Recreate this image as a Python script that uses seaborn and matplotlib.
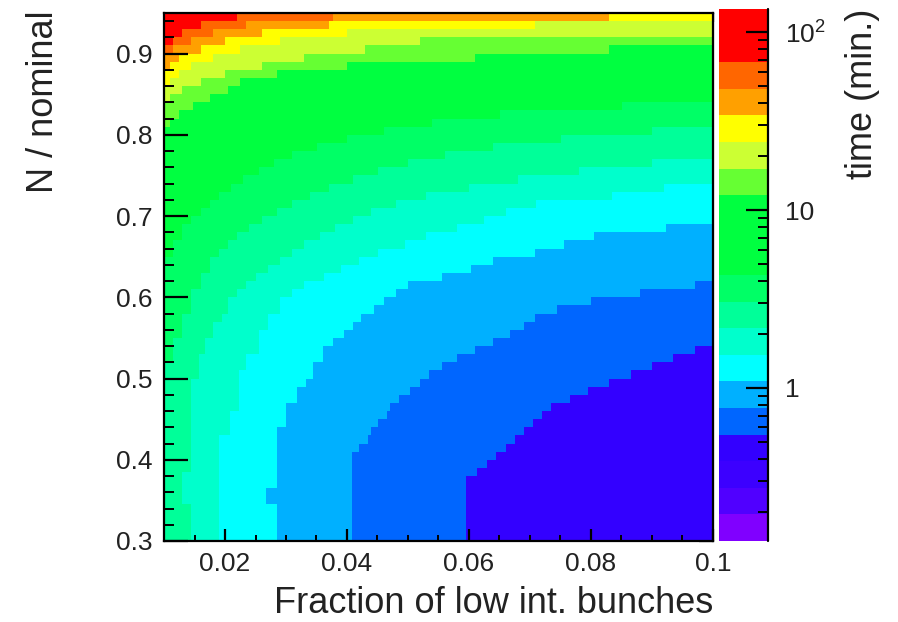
import numpy as np
import pandas as pd
import matplotlib
matplotlib.use("Agg")
import matplotlib.pyplot as plt
import seaborn as sns
from matplotlib.colors import ListedColormap, LogNorm
from matplotlib.ticker import FixedLocator, FixedFormatter, LogLocator, NullFormatter

sns.set_style("white")
plt.rcParams['font.family'] = ['Liberation Sans', 'DejaVu Sans']
plt.rcParams['mathtext.fontset'] = 'custom'
plt.rcParams['mathtext.rm'] = 'Liberation Sans'
plt.rcParams['mathtext.it'] = 'Liberation Sans:italic'
plt.rcParams['axes.axisbelow'] = False

# ---------------- data ----------------
X_RANGE = [0.01, 0.1]          # Fraction of low int. bunches
Y_RANGE = [0.3, 0.95]          # N / nominal
T_RANGE = [0.138, 134.9]       # colour scale (time, min.), log
N_LEVELS = 20
BASE_BAND = 3                  # band in the lower right corner

PALETTE = ["#8000ff", "#5000ff", "#3c00ff", "#3300ff", "#0066ff",
           "#00b0ff", "#00ffff", "#00ffcc", "#00ff99", "#00ff66",
           "#00ff40", "#00ff40", "#00ff40", "#66ff33", "#ccff33",
           "#ffff00", "#ffa000", "#ff6600", "#ff0000", "#ff0000"]

# contour-band edges: from y = Y[i] upward, band >= k lies left of x = X[i]
B4_Y = [0.30, 0.38, 0.39, 0.40, 0.41, 0.42, 0.43, 0.44, 0.45, 0.46, 0.47, 0.48, 0.49, 0.50, 0.51, 0.52, 0.53, 0.54]
B4_X = [0.0595, 0.0613, 0.063, 0.0645, 0.066, 0.0675, 0.069, 0.0705, 0.072, 0.0735, 0.0765, 0.0795, 0.083, 0.0865, 0.09, 0.0935, 0.097, 0.1]

B5_Y = [0.30, 0.41, 0.42, 0.43, 0.44, 0.45, 0.46, 0.47, 0.48, 0.49, 0.50, 0.51, 0.52, 0.53, 0.54, 0.55, 0.56, 0.57, 0.58, 0.59, 0.60, 0.61, 0.62]
B5_X = [0.0408, 0.042, 0.0435, 0.044, 0.045, 0.0465, 0.047, 0.0485, 0.0503, 0.052, 0.0536, 0.0555, 0.058, 0.061, 0.064, 0.0667, 0.069, 0.0708, 0.0745, 0.080, 0.088, 0.097, 0.1]

B6_Y = [0.30, 0.345, 0.365, 0.44, 0.47, 0.49, 0.50, 0.52, 0.54, 0.55, 0.56, 0.57, 0.58, 0.59, 0.60, 0.61, 0.62, 0.63, 0.64, 0.65, 0.66, 0.67, 0.68, 0.69]
B6_X = [0.0285, 0.0268, 0.0285, 0.030, 0.0318, 0.0333, 0.0346, 0.0361, 0.0378, 0.0395, 0.041, 0.0423, 0.0445, 0.0459, 0.048, 0.050, 0.0554, 0.0602, 0.064, 0.0708, 0.0755, 0.0805, 0.0923, 0.1]

B7_Y = [0.30, 0.43, 0.46, 0.51, 0.53, 0.56, 0.58, 0.60, 0.61, 0.62, 0.63, 0.64, 0.65, 0.66, 0.67, 0.68, 0.69, 0.70, 0.71, 0.72, 0.73, 0.74]
B7_X = [0.019, 0.0208, 0.0222, 0.0236, 0.0254, 0.027, 0.029, 0.031, 0.033, 0.0363, 0.039, 0.042, 0.045, 0.0494, 0.053, 0.058, 0.0625, 0.0661, 0.0709, 0.0834, 0.092, 0.1]

B8_Y = [0.30, 0.345, 0.385, 0.50, 0.53, 0.55, 0.57, 0.58, 0.60, 0.61, 0.62, 0.63, 0.64, 0.65, 0.66, 0.67, 0.68, 0.69, 0.70, 0.71, 0.72, 0.73, 0.74, 0.75, 0.76, 0.77]
B8_X = [0.0145, 0.013, 0.0145, 0.0157, 0.0168, 0.018, 0.0195, 0.0205, 0.022, 0.0235, 0.025, 0.027, 0.029, 0.031, 0.033, 0.0355, 0.038, 0.041, 0.044, 0.048, 0.053, 0.06, 0.068, 0.078, 0.09, 0.1]

B9_Y = [0.52, 0.55, 0.58, 0.61, 0.63, 0.65, 0.66, 0.67, 0.68, 0.69, 0.70, 0.71, 0.72, 0.73, 0.74, 0.75, 0.76, 0.77, 0.78, 0.79, 0.80, 0.81]
B9_X = [0.0115, 0.013, 0.0145, 0.016, 0.0175, 0.019, 0.0205, 0.022, 0.024, 0.026, 0.0285, 0.031, 0.034, 0.037, 0.041, 0.045, 0.05, 0.056, 0.064, 0.075, 0.09, 0.1]

B10_Y = [0.65, 0.67, 0.69, 0.70, 0.71, 0.72, 0.73, 0.74, 0.75, 0.76, 0.77, 0.78, 0.79, 0.80, 0.81, 0.82, 0.83, 0.84]
B10_X = [0.0115, 0.013, 0.0145, 0.016, 0.0175, 0.019, 0.021, 0.023, 0.0255, 0.028, 0.031, 0.035, 0.04, 0.046, 0.054, 0.065, 0.085, 0.1]

B13_Y = [0.81, 0.82, 0.83, 0.84, 0.85, 0.86, 0.87, 0.88, 0.89, 0.90, 0.91]
B13_X = [0.011, 0.0126, 0.0148, 0.0176, 0.0205, 0.0225, 0.0285, 0.04, 0.061, 0.083, 0.1]

B14_Y = [0.84, 0.85, 0.86, 0.87, 0.88, 0.89, 0.90, 0.91, 0.92]
B14_X = [0.011, 0.013, 0.016, 0.020, 0.026, 0.033, 0.043, 0.052, 0.1]

B15_Y = [0.86, 0.87, 0.88, 0.89, 0.90, 0.91, 0.92, 0.93, 0.94]
B15_X = [0.011, 0.0125, 0.0145, 0.018, 0.0225, 0.029, 0.04, 0.0708, 0.1]

B16_Y = [0.88, 0.89, 0.90, 0.91, 0.92, 0.93, 0.94]
B16_X = [0.011, 0.0125, 0.016, 0.020, 0.026, 0.037, 0.0831]

B17_Y = [0.90, 0.91, 0.92, 0.93, 0.94]
B17_X = [0.0115, 0.0145, 0.018, 0.0235, 0.0377]

B18_Y = [0.91, 0.92, 0.93, 0.94]
B18_X = [0.0115, 0.013, 0.0159, 0.0221]

BANDS = {4: (B4_Y, B4_X), 5: (B5_Y, B5_X), 6: (B6_Y, B6_X), 7: (B7_Y, B7_X),
         8: (B8_Y, B8_X), 9: (B9_Y, B9_X), 10: (B10_Y, B10_X), 13: (B13_Y, B13_X),
         14: (B14_Y, B14_X), 15: (B15_Y, B15_X), 16: (B16_Y, B16_X),
         17: (B17_Y, B17_X), 18: (B18_Y, B18_X)}

X_TICKS = [0.02, 0.04, 0.06, 0.08, 0.1]
X_TICK_LABELS = ["0.02", "0.04", "0.06", "0.08", "0.1"]
Y_TICKS = [0.3, 0.4, 0.5, 0.6, 0.7, 0.8, 0.9]
Y_TICK_LABELS = ["0.3", "0.4", "0.5", "0.6", "0.7", "0.8", "0.9"]
Z_TICKS = [1, 10, 100]
Z_TICK_LABELS = ["1", "10", "$10^{2}$"]

# ---------------- build the grid ----------------
DX, DY = 0.00025, 0.0025
NX = int(round((X_RANGE[1] - X_RANGE[0]) / DX))
NY = int(round((Y_RANGE[1] - Y_RANGE[0]) / DY))
xc = X_RANGE[0] + (np.arange(NX) + 0.5) * DX
yc = Y_RANGE[1] - (np.arange(NY) + 0.5) * DY        # top row first

band = np.full((NY, NX), BASE_BAND)
for k, (ys, xs) in BANDS.items():
    ys = np.asarray(ys); xs = np.asarray(xs)
    idx = np.searchsorted(ys, yc + 1e-9, side="right") - 1
    edge = np.where(idx >= 0, xs[np.clip(idx, 0, None)], X_RANGE[0])
    inside = xc[None, :] < edge[:, None] - 1e-9
    band = np.where(inside, np.maximum(band, k), band)

lo, hi = np.log10(T_RANGE[0]), np.log10(T_RANGE[1])
step = (hi - lo) / N_LEVELS
values = 10 ** (lo + (band + 0.5) * step)
df = pd.DataFrame(values, index=np.round(yc, 5), columns=np.round(xc, 5))

# ---------------- figure ----------------
W, H = 898, 622
fig = plt.figure(figsize=(W / 100, H / 100), dpi=100)
ax = fig.add_axes([164 / W, 81 / H, 549 / W, 528 / H])
cax = fig.add_axes([719 / W, 81 / H, 49 / W, 532 / H])

cmap = ListedColormap(PALETTE)
norm = LogNorm(vmin=T_RANGE[0], vmax=T_RANGE[1])
sns.heatmap(df, ax=ax, cmap=cmap, norm=norm, cbar_ax=cax,
            xticklabels=False, yticklabels=False, rasterized=True)
ax.set_axisbelow(False)
cax.set_axisbelow(False)

def xpos(v):
    return (np.asarray(v) - X_RANGE[0]) / DX

def ypos(v):
    return (Y_RANGE[1] - np.asarray(v)) / DY

for s in ax.spines.values():
    s.set_visible(True)
    s.set_color("black")
    s.set_linewidth(1.6)
    s.set_zorder(5)

TICK_FS = 19
LABEL_FS = 26
x_minor = np.arange(0.01, 0.1001, 0.005)
y_minor = np.arange(0.30, 0.9501, 0.02)

ax.set_xticks(xpos(X_TICKS))
ax.set_xticklabels(X_TICK_LABELS, fontsize=TICK_FS, rotation=0)
ax.xaxis.set_minor_locator(FixedLocator(xpos(x_minor)))
ax.set_yticks(ypos(Y_TICKS))
ax.set_yticklabels(Y_TICK_LABELS, fontsize=TICK_FS, rotation=0)
ax.yaxis.set_minor_locator(FixedLocator(ypos(y_minor)))
ax.tick_params(axis="x", which="major", direction="in", length=8.6, width=1.6,
               bottom=True, top=False, pad=8, colors="black", labelcolor="#222222")
ax.tick_params(axis="x", which="minor", direction="in", length=4.3, width=1.4,
               bottom=True, top=False, colors="black")
ax.tick_params(axis="y", which="major", direction="in", length=17, width=1.6,
               left=True, right=False, pad=8, colors="black", labelcolor="#222222")
ax.tick_params(axis="y", which="minor", direction="in", length=7.2, width=1.4,
               left=True, right=False, colors="black")

axt = ax.secondary_xaxis("top")
axt.set_xticks(xpos(X_TICKS))
axt.xaxis.set_minor_locator(FixedLocator(xpos(x_minor)))
axt.tick_params(axis="x", which="major", direction="in", length=6.5, width=1.6,
                labeltop=False, top=True, colors="black")
axt.tick_params(axis="x", which="minor", direction="in", length=3.6, width=1.4,
                top=True, colors="black")
axt.set_xticklabels([])

axr = ax.secondary_yaxis("right")
axr.set_yticks(ypos(Y_TICKS))
axr.yaxis.set_minor_locator(FixedLocator(ypos(y_minor)))
axr.tick_params(axis="y", which="major", direction="in", length=10, width=1.6,
                labelright=False, right=True, colors="black")
axr.tick_params(axis="y", which="minor", direction="in", length=5, width=1.4,
                right=True, colors="black")
axr.set_yticklabels([])

ax.set_xlabel("Fraction of low int. bunches", fontsize=LABEL_FS, loc="right",
              labelpad=7, color="#222222")
ax.set_ylabel("N / nominal", fontsize=LABEL_FS, loc="top", color="#222222")
ax.yaxis.set_label_coords(-0.188, 1.004, transform=ax.transAxes)
ax.yaxis.label.set_horizontalalignment("right")

# colour bar
cbar = ax.collections[0].colorbar
cbar.outline.set_visible(False)
cax.yaxis.set_major_locator(FixedLocator(Z_TICKS))
cax.yaxis.set_major_formatter(FixedFormatter(Z_TICK_LABELS))
cax.yaxis.set_minor_locator(LogLocator(base=10, subs=np.arange(2, 10)))
cax.yaxis.set_minor_formatter(NullFormatter())
cax.tick_params(axis="y", which="major", direction="in", length=16, width=1.6,
                right=True, left=False, labelsize=TICK_FS, pad=12,
                colors="black", labelcolor="#222222")
cax.tick_params(axis="y", which="minor", direction="in", length=7, width=1.4,
                right=True, left=False, colors="black")
cax.plot([1, 1], [0, 1], transform=cax.transAxes, color="black", lw=1.6, clip_on=False)
cax.set_ylabel("time (min.)", fontsize=LABEL_FS, loc="top", labelpad=14, color="#222222")
cax.yaxis.set_label_position("right")

fig.savefig("out.png", dpi=100)
